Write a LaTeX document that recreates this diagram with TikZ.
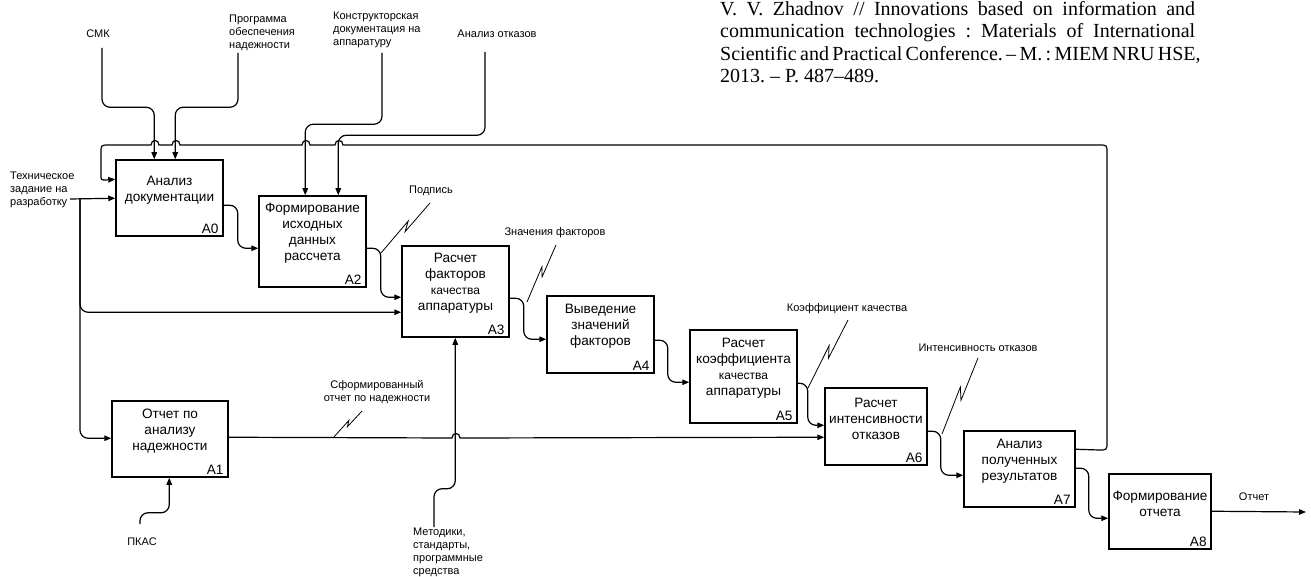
\documentclass[tikz,border=0pt]{standalone}
\usepackage{fontspec}
\setmainfont{Liberation Sans}
\newfontfamily\citefam{Liberation Serif}
\usetikzlibrary{arrows.meta,calc}
\frenchspacing
\begin{document}
\begin{tikzpicture}[x=1pt,y=-1pt,
  box/.style={draw, line width=1.5pt, rectangle, inner sep=0pt},
  btext/.style={align=center, font=\fontsize{13.6}{16}\selectfont, inner sep=0pt},
  bnum/.style={anchor=south east, font=\fontsize{13.6}{16}\selectfont, inner sep=0pt},
  lbl/.style={font=\fontsize{11}{13}\selectfont, inner sep=0pt},
  conn/.style={line width=1.2pt},
  arr/.style={conn, -{Triangle[length=7pt,width=5.5pt]}},
  zz/.style={line width=0.8pt},
  rc/.style={rounded corners=8pt}
]
\useasboundingbox (0,0) rectangle (1311,577);
\clip (0,0) rectangle (1311,577);

% citation
\node[anchor=north west, inner sep=0pt, align=left,
      font=\citefam\fontsize{20}{22.5}\selectfont] (cite) at (720,1)
 {\hbox to 475pt{V. V. Zhadnov // Innovations based on information and}\\
  \hbox to 475pt{communication technologies : Materials of International}\\
  \hbox to 475pt{Scientific and Practical Conference. – M. : MIEM NRU HSE,}\\
  2013. – P. 487–489.};

% boxes
\node[box, minimum width=107pt, minimum height=76pt] (A0) at (169.5,198) {};
\node[box, minimum width=107pt, minimum height=91pt] (A2) at (312.5,241.5) {};
\node[box, minimum width=107pt, minimum height=91pt] (A3) at (455.5,291.5) {};
\node[box, minimum width=107pt, minimum height=77pt] (A4) at (600.5,334.5) {};
\node[box, minimum width=107pt, minimum height=93pt] (A5) at (743.5,376.5) {};
\node[box, minimum width=102pt, minimum height=77pt] (A6) at (876,426.5) {};
\node[box, minimum width=111pt, minimum height=76pt] (A7) at (1019.5,469) {};
\node[box, minimum width=102pt, minimum height=75pt] (A8) at (1160,511.5) {};
\node[box, minimum width=116pt, minimum height=76pt] (A1) at (170,439) {};

\node[btext] (t0) at (169.5,190) {Анализ\\документации};
\node[btext] (t2) at (312.5,233.5) {Формирование\\исходных\\данных\\рассчета};
\node[btext] (t3) at (455.5,283.5) {Расчет\\факторов\\{\fontsize{12}{14}\selectfont качества}\\аппаратуры};
\node[btext] (t4) at (600.5,326.5) {Выведение\\значений\\факторов};
\node[btext] (t5) at (743.5,368.5) {Расчет\\коэффициента\\{\fontsize{12}{14}\selectfont качества}\\аппаратуры};
\node[btext] (t6) at (876,418.5) {Расчет\\интенсивности\\отказов};
\node[btext] (t7) at (1019.5,461) {Анализ\\полученных\\результатов};
\node[btext] (t8) at (1160,503.5) {Формирование\\отчета};
\node[btext] (t1) at (170,431) {Отчет по\\анализу\\надежности};

\node[bnum] (n0) at ($(A0.south east)+(-5,-3)$) {A0};
\node[bnum] (n2) at ($(A2.south east)+(-5,-3)$) {A2};
\node[bnum] (n3) at ($(A3.south east)+(-5,-3)$) {A3};
\node[bnum] (n4) at ($(A4.south east)+(-5,-3)$) {A4};
\node[bnum] (n5) at ($(A5.south east)+(-5,-3)$) {A5};
\node[bnum] (n6) at ($(A6.south east)+(-5,-3)$) {A6};
\node[bnum] (n7) at ($(A7.south east)+(-5,-3)$) {A7};
\node[bnum] (n8) at ($(A8.south east)+(-5,-3)$) {A8};
\node[bnum] (n1) at ($(A1.south east)+(-5,-3)$) {A1};

% input
\node[lbl, align=left, anchor=west] (tz) at (10,190) {Техническое\\задание на\\разработку};
\coordinate (tzs) at (70,199);
\coordinate (br) at (80,199);
\draw[arr] (tzs) -- ($(A0.north west)+(0,39)$);
\draw[arr, rc] (br) |- ($(A3.north west)+(0,67)$);
\draw[arr, rc] (br) |- ($(A1.north west)+(0,38)$);

% controls
\node[lbl] (smk) at (98,34) {СМК};
\coordinate (smks) at (102,48);
\draw[arr, rc] (smks) |- ($(A0.north west)+(39,-52)$) -- ($(A0.north west)+(39,0)$);

\node[lbl, align=left, anchor=west] (prog) at (229,32.5) {Программа\\обеспечения\\надежности};
\coordinate (progs) at (238,53);
\draw[arr, rc] (progs) |- ($(A0.north west)+(60,-52)$) -- ($(A0.north west)+(60,0)$);

\node[lbl, align=left, anchor=west] (kd) at (333,29.5) {Конструкторская\\документация на\\аппаратуру};
\coordinate (kds) at (382,53);
\draw[arr, rc] (kds) |- ($(A2.north west)+(47,-71)$) -- ($(A2.north west)+(47,0)$);

\node[lbl] (ao) at (497,34) {Анализ отказов};
\coordinate (aos) at (485,52);
\draw[arr, rc] (aos) |- ($(A2.north west)+(80,-60)$) -- ($(A2.north west)+(80,0)$);

% mechanisms
\node[lbl] (pkas) at (142,542) {ПКАС};
\coordinate (pkass) at (140,524);
\draw[arr, rc] (pkass) |- ($(A1.south west)+(58,35)$) -- ($(A1.south west)+(58,0)$);

\node[lbl, align=left, anchor=west] (met) at (413,552.5) {Методики,\\стандарты,\\программные\\средства};
\coordinate (mets) at (434,527);
\draw[arr, rc] (mets) |- ($(A3.south west)+(54,151)$) -- ($(A3.south west)+(54,0)$);

% flows between boxes
\draw[arr, rc] ($(A0.north east)+(0,46)$) -- ++(14,0) |- ($(A2.north west)+(0,53)$);
\draw[arr, rc] ($(A2.north east)+(0,53)$) -- ++(14,0) |- ($(A3.north west)+(0,52)$);
\draw[arr, rc] ($(A3.north east)+(0,53)$) -- ++(14,0) |- ($(A4.north west)+(0,44)$);
\draw[arr, rc] ($(A4.north east)+(0,45)$) -- ++(13,0) |- ($(A5.north west)+(0,53)$);
\draw[arr, rc] ($(A5.north east)+(0,54)$) -- ++(10,0) |- ($(A6.north west)+(0,38)$);
\draw[arr, rc] ($(A6.north east)+(0,44)$) -- ++(13,0) |- ($(A7.north west)+(0,45)$);
\draw[arr, rc] ($(A7.north east)+(0,38)$) -- ++(13,0) |- ($(A8.north west)+(0,45)$);

\coordinate (outE) at (1306,512);
\draw[arr] ($(A8.north east)+(0,38)$) -- (outE);
\node[lbl] (otch) at (1254,497) {Отчет};

\draw[arr] ($(A1.north east)+(0,37)$) -- (452,438) .. controls (452,432) and (460,432) .. (460,438) -- ($(A6.north west)+(0,50)$);

% feedback
\draw[arr] ($(A7.north east)+(0,19)$) -- (1099,450) .. controls (1107,450) .. (1107,442)
  -- (1107,153) .. controls (1107,145) .. (1099,145)
  -- (343,145) .. controls (343,139) and (335,139) .. (335,145)
  -- (310,145) .. controls (310,139) and (302,139) .. (302,145)
  -- (180,145) .. controls (180,139) and (172,139) .. (172,145)
  -- (159,145) .. controls (159,139) and (151,139) .. (151,145)
  -- (109,145) .. controls (101,145) .. (101,153)
  -- (101,175) .. controls (101,180) .. (106,180)
  -- ($(A0.north west)+(0,20)$);

% squiggle labels
\node[lbl] (pod) at (431,191) {Подпись};
\coordinate (podS) at (381,253); \coordinate (podE) at (430,203);
\draw[zz] (podS) -- ($(podS)!0.6!4:(podE)$) -- ($(podS)!0.46!-4:(podE)$) -- (podE);

\node[lbl] (znf) at (555,233) {Значения факторов};
\coordinate (znS) at (527,302); \coordinate (znE) at (556,245);
\draw[zz] (znS) -- ($(znS)!0.6!4:(znE)$) -- ($(znS)!0.46!-4:(znE)$) -- (znE);

\node[lbl] (kk) at (847,309) {Коэффициент качества};
\coordinate (kkS) at (808,388); \coordinate (kkE) at (848,320);
\draw[zz] (kkS) -- ($(kkS)!0.6!4:(kkE)$) -- ($(kkS)!0.46!-4:(kkE)$) -- (kkE);

\node[lbl] (io) at (978,348) {Интенсивность отказов};
\coordinate (ioS) at (942,434); \coordinate (ioE) at (978,358);
\draw[zz] (ioS) -- ($(ioS)!0.6!4:(ioE)$) -- ($(ioS)!0.46!-4:(ioE)$) -- (ioE);

\node[lbl, align=center] (sfo) at (377,392) {Сформированный\\отчет по надежности};
\coordinate (sfS) at (333,438); \coordinate (sfE) at (362,411);
\draw[zz] (sfS) -- ($(sfS)!0.6!5:(sfE)$) -- ($(sfS)!0.46!-5:(sfE)$) -- (sfE);
\end{tikzpicture}
\end{document}
